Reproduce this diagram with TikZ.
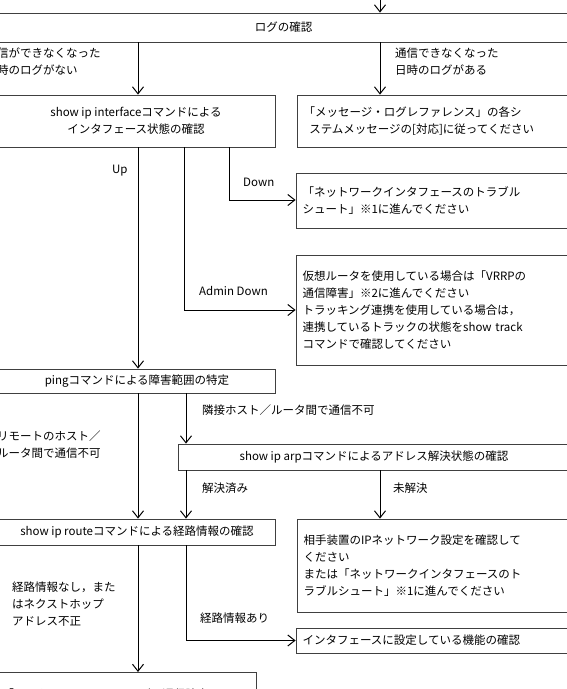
\documentclass[tikz,border=0pt]{standalone}
\usepackage{fontspec}
\setmainfont{Noto Sans CJK JP}
\usetikzlibrary{arrows.meta}
\begin{document}
\begin{tikzpicture}[x=1pt,y=-1pt,
  every node/.style={font=\fontsize{11.5}{17}\selectfont, inner sep=0pt},
  box/.style={draw=black!75, line width=0.8pt, rectangle},
  lbl/.style={anchor=north west, align=left},
  tbox/.style={box, text width=262pt, align=left},
  conn/.style={draw, line width=1pt, -{Straight Barb[length=7pt,width=11pt,line width=1pt]}},
  ln/.style={draw, line width=1pt}]
\useasboundingbox (0,0) rectangle (567,689);
\clip (0,0) rectangle (567,689);
% boxes
\node[box, minimum width=572pt, minimum height=29pt] (log) at (283.5,27.5) {ログの確認};
\node[box, minimum width=278pt, minimum height=52pt, align=center] (ifc) at (136,121) {show ip interfaceコマンドによる\\インタフェース状態の確認};
\node[tbox, minimum width=275pt, minimum height=52pt] (msg) at (434.5,121) {「メッセージ・ログレファレンス」の各シ\\\hspace*{0.5em}ステムメッセージの[対応]に従ってください};
\node[tbox, minimum width=275pt, minimum height=55pt] (nif) at (433.5,200.5) {「ネットワークインタフェースのトラブル\\シュート」※1に進んでください};
\node[tbox, minimum width=275pt, minimum height=110pt] (vr) at (433.5,310) {仮想ルータを使用している場合は「VRRPの\\通信障害」※2に進んでください\\トラッキング連携を使用している場合は，\\連携しているトラックの状態をshow track\\コマンドで確認してください};
\node[box, minimum width=276pt, minimum height=24pt] (ping) at (137,381) {pingコマンドによる障害範囲の特定};
\node[box, minimum width=392pt, minimum height=26pt] (arp) at (374,457) {show ip arpコマンドによるアドレス解決状態の確認};
\node[box, minimum width=276pt, minimum height=26pt] (route) at (137,532) {show ip routeコマンドによる経路情報の確認};
\node[tbox, minimum width=275pt, minimum height=93pt] (peer) at (434.5,565.5) {相手装置のIPネットワーク設定を確認して\\ください\\または「ネットワークインタフェースのト\\ラブルシュート」※1に進んでください};
\node[tbox, minimum width=275pt, minimum height=25pt] (func) at (433.5,640.5) {インタフェースに設定している機能の確認};
\node[box, minimum width=258pt, minimum height=40pt, anchor=north west, text width=250pt, align=left] (uni) at (-2,672) {\raisebox{-13pt}{「ユニキャストルーティングの通信障害」※2}};
% connectors
\coordinate (top) at (380,0);
\draw[conn] (top) -- (log.north -| top);
\draw[conn] (log.south -| 138,0) -- (ifc.north -| 138,0);
\draw[conn] (log.south -| 380,0) -- (msg.north -| 380,0);
\draw[conn] (ifc.south -| 138,0) -- (ping.north -| 138,0);
\draw[conn] (ifc.south -| 229,0) |- (nif.west |- 0,200);
\draw[conn] (ifc.south -| 184,0) |- (vr.west |- 0,310);
\draw[conn] (ping.south -| 138,0) -- (route.north -| 138,0);
\draw[conn] (ping.south -| 186,0) -- (arp.north -| 186,0);
\draw[conn] (arp.south -| 186,0) -- (route.north -| 186,0);
\draw[conn] (arp.south -| 380,0) -- (peer.north -| 380,0);
\draw[conn] (route.south -| 138,0) -- (uni.north -| 138,0);
\draw[conn] (route.south -| 186,0) |- (func.west);
% labels
\node[lbl] at (-3,48) {信ができなくなった\\時のログがない};
\node[lbl] at (395,48) {通信できなくなった\\日時のログがある};
\node[lbl] at (112,165) {Up};
\node[lbl] at (243,178) {Down};
\node[lbl] at (199,286) {Admin Down};
\node[lbl] at (-3,431) {リモートのホスト／\\ルータ間で通信不可};
\node[lbl] at (202,405) {隣接ホスト／ルータ間で通信不可};
\node[lbl] at (202,483) {解決済み};
\node[lbl] at (393,483) {未解決};
\node[lbl] at (12,582) {経路情報なし，また\\はネクストホップ\\アドレス不正};
\node[lbl] at (200,613) {経路情報あり};
\end{tikzpicture}
\end{document}
